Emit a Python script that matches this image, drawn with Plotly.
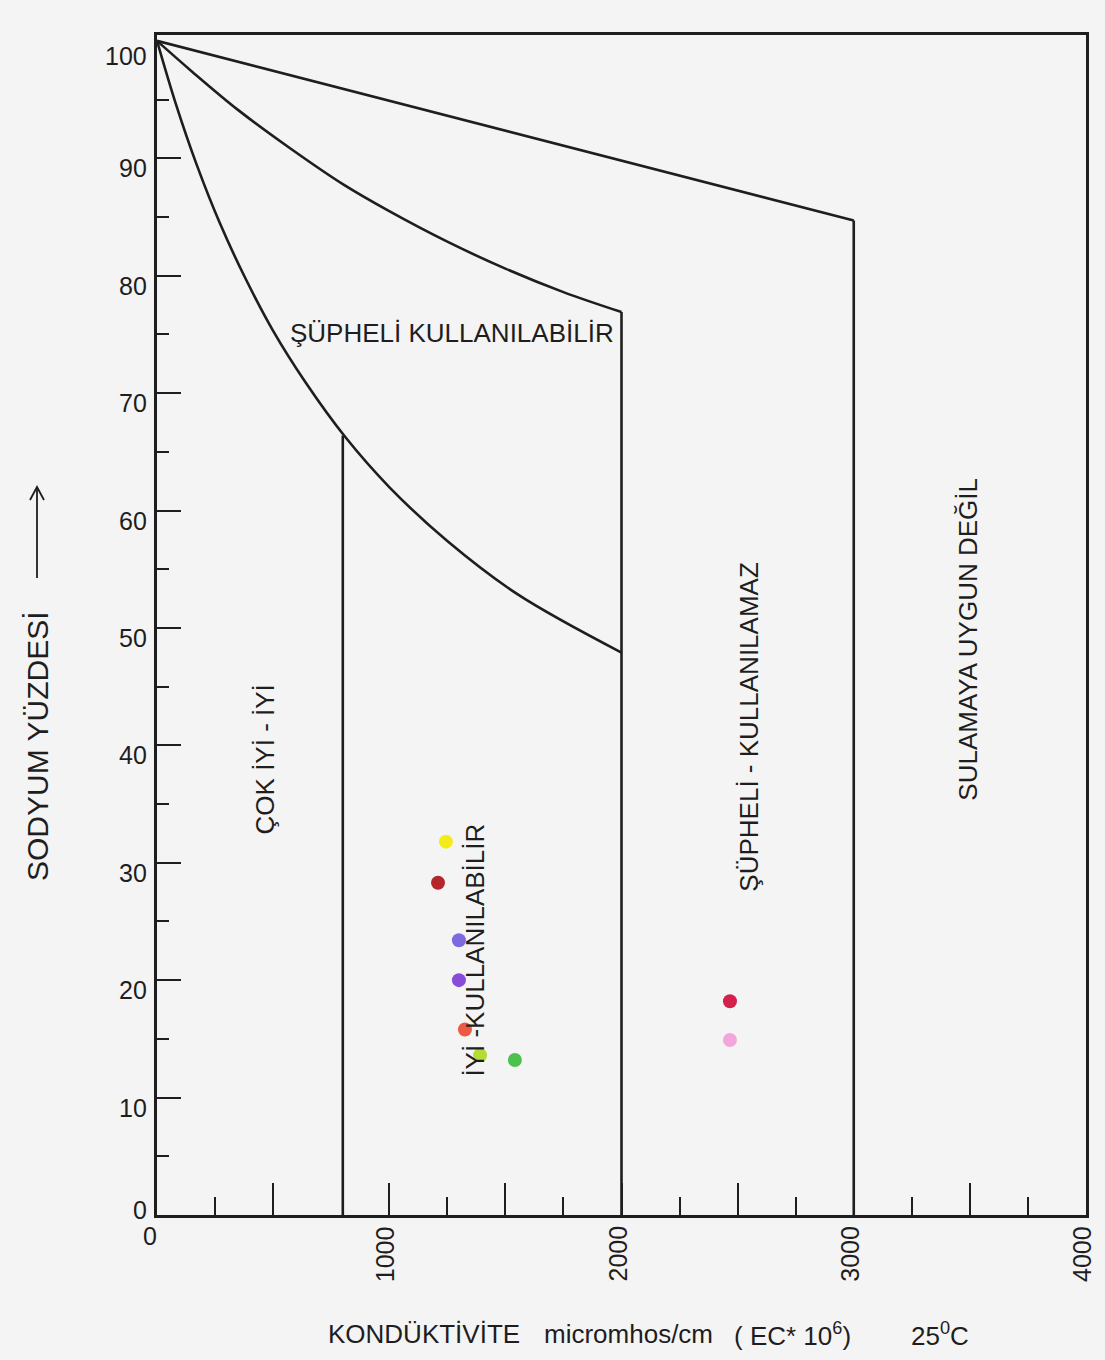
import plotly.graph_objects as go

# Water samples: electrical conductivity (micromhos/cm) and sodium percentage
ec_samples = [1244, 1210, 1300, 1300, 1326, 1391, 1541, 2467, 2467]
na_samples = [31.8, 28.3, 23.4, 20.0, 15.8, 13.6, 13.2, 18.2, 14.9]
sample_colors = ["#f4ec1a", "#b3262c", "#7d6ae0", "#8a4cd8", "#ec5a44",
                 "#b4dc34", "#4cc14e", "#d6204c", "#f2a6dc"]

# Class boundaries of the irrigation-water diagram
upper_ec = [0, 3000]
upper_na = [100, 84.7]
middle_ec = [0, 150, 350, 570, 800, 1000, 1250, 1500, 1750, 2000]
middle_na = [100, 97.4, 94.1, 90.9, 87.8, 85.5, 82.9, 80.6, 78.6, 76.9]
lower_ec = [0, 80, 170, 270, 380, 500, 640, 809, 1000, 1250, 1550, 2000]
lower_na = [100, 94.7, 89.5, 84.5, 79.8, 75.3, 70.9, 66.3, 62.0, 57.4, 52.9, 47.9]
limit_ec = [800, 2000, 3000]
limit_top = [66.4, 76.9, 84.7]

# Axis ticks and labels
x_label_vals = [0, 1000, 2000, 3000, 4000]
x_major_ticks = [500, 1000, 1500, 2000, 2500, 3000, 3500]
x_minor_ticks = [250, 1250, 1750, 2250, 2750, 3250, 3750]
y_label_vals = [0, 10, 20, 30, 40, 50, 60, 70, 80, 90, 100]
y_major_ticks = [10, 20, 30, 40, 50, 60, 70, 80, 90]
y_minor_ticks = [5, 15, 25, 35, 45, 55, 65, 75, 85, 95]

zone_names = ["ŞÜPHELİ KULLANILABİLİR", "ÇOK İYİ - İYİ", "İYİ -KULLANILABİLİR",
              "ŞÜPHELİ - KULLANILAMAZ", "SULAMAYA UYGUN DEĞİL"]

FONT = "Liberation Sans, Arial, sans-serif"
INK = "#1e1e1e"
BG = "#f5f4f4"

# plot-area geometry in pixels, used to place texts outside the axes
L, R, T, B = 157, 19, 35, 145
PW, PH = 1105 - L - R, 1360 - T - B


def px_x(px):
    return (px - L) / PW


def px_y(py):
    return (1360 - B - py) / PH


fig = go.Figure()

line_style = dict(color=INK, width=2.6)
fig.add_trace(go.Scatter(x=upper_ec, y=upper_na, mode="lines", line=line_style,
                         hoverinfo="skip", showlegend=False))
fig.add_trace(go.Scatter(x=middle_ec, y=middle_na, mode="lines",
                         line=dict(line_style, shape="spline", smoothing=1.0),
                         hoverinfo="skip", showlegend=False))
fig.add_trace(go.Scatter(x=lower_ec, y=lower_na, mode="lines",
                         line=dict(line_style, shape="spline", smoothing=1.0),
                         hoverinfo="skip", showlegend=False))

vx, vy = [], []
for ec, top in zip(limit_ec, limit_top):
    vx += [ec, ec, None]
    vy += [top, 0, None]
fig.add_trace(go.Scatter(x=vx, y=vy, mode="lines", line=line_style,
                         hoverinfo="skip", showlegend=False))

fig.add_trace(go.Scatter(x=ec_samples, y=na_samples, mode="markers",
                         marker=dict(size=14, color=sample_colors, line=dict(width=0)),
                         showlegend=False))

annotations = []
# y tick labels sit slightly below their ticks
for v in y_label_vals:
    shift = -10
    if v == 0:
        shift = 5
    elif v == 100:
        shift = -15
    annotations.append(dict(x=0, xref="paper", y=v, yref="y", text=str(v),
                            showarrow=False, xanchor="right", yanchor="middle",
                            xshift=-8, yshift=shift,
                            font=dict(family=FONT, size=25, color=INK)))
for v in x_label_vals:
    if v == 0:
        annotations.append(dict(x=v, xref="x", y=0, yref="paper", text="0",
                                showarrow=False, xanchor="center", yanchor="middle",
                                xshift=-7, yshift=-21,
                                font=dict(family=FONT, size=25, color=INK)))
    else:
        annotations.append(dict(x=v, xref="x", y=0, yref="paper", text=str(v),
                                showarrow=False, textangle=-90, xanchor="center",
                                yanchor="top", xshift=-4, yshift=-9,
                                font=dict(family=FONT, size=25, color=INK)))

# zone names
zone_pos = [(1272, 75.1, 0), (465, 38.8, -90), (1369, 22.6, -90),
            (2545, 41.6, -90), (3492, 49.0, -90)]
for name, (zx, zy, ang) in zip(zone_names, zone_pos):
    annotations.append(dict(x=zx, y=zy, xref="x", yref="y", text=name, showarrow=False,
                            textangle=ang, xanchor="center", yanchor="middle",
                            font=dict(family=FONT, size=26, color=INK)))

# y axis title with its upward arrow
annotations.append(dict(x=px_x(37), xref="paper", y=px_y(746), yref="paper",
                        text="SODYUM YÜZDESİ", showarrow=False, textangle=-90,
                        xanchor="center", yanchor="middle",
                        font=dict(family=FONT, size=30, color=INK)))
shapes = [
    dict(type="line", xref="paper", yref="paper", x0=px_x(37), x1=px_x(37),
         y0=px_y(578), y1=px_y(488), line=dict(color=INK, width=1.8)),
    dict(type="path", xref="paper", yref="paper",
         path=f"M {px_x(30)},{px_y(500)} L {px_x(37)},{px_y(487)} L {px_x(44)},{px_y(500)}",
         line=dict(color=INK, width=1.8)),
]

# x axis title
title_parts = [("KONDÜKTİVİTE", 326), ("micromhos/cm", 542),
               ("( EC* 10<sup>6</sup>)", 732), ("25<sup>0</sup>C", 909)]
for txt, px in title_parts:
    annotations.append(dict(x=px_x(px), xref="paper", y=px_y(1334), yref="paper",
                            text=txt, showarrow=False, xanchor="left", yanchor="middle",
                            font=dict(family=FONT, size=26, color=INK)))

axis_common = dict(showgrid=False, zeroline=False, showline=True, linecolor=INK,
                   linewidth=2.8, mirror=True, ticks="inside", tickcolor=INK,
                   tickwidth=2.4, showticklabels=False)

fig.update_layout(
    width=1105, height=1360, autosize=False,
    margin=dict(l=L, r=R, t=T, b=B),
    paper_bgcolor=BG, plot_bgcolor=BG,
    xaxis=dict(axis_common, range=[0, 4000], tickmode="array", tickvals=x_major_ticks,
               ticklen=32,
               minor=dict(tickmode="array", tickvals=x_minor_ticks, ticks="inside",
                          ticklen=18, tickcolor=INK, tickwidth=2.4)),
    yaxis=dict(axis_common, range=[0, 100.5], tickmode="array", tickvals=y_major_ticks,
               ticklen=24,
               minor=dict(tickmode="array", tickvals=y_minor_ticks, ticks="inside",
                          ticklen=12, tickcolor=INK, tickwidth=2.4)),
    annotations=annotations,
    shapes=shapes,
)

fig.write_html("out.html")
